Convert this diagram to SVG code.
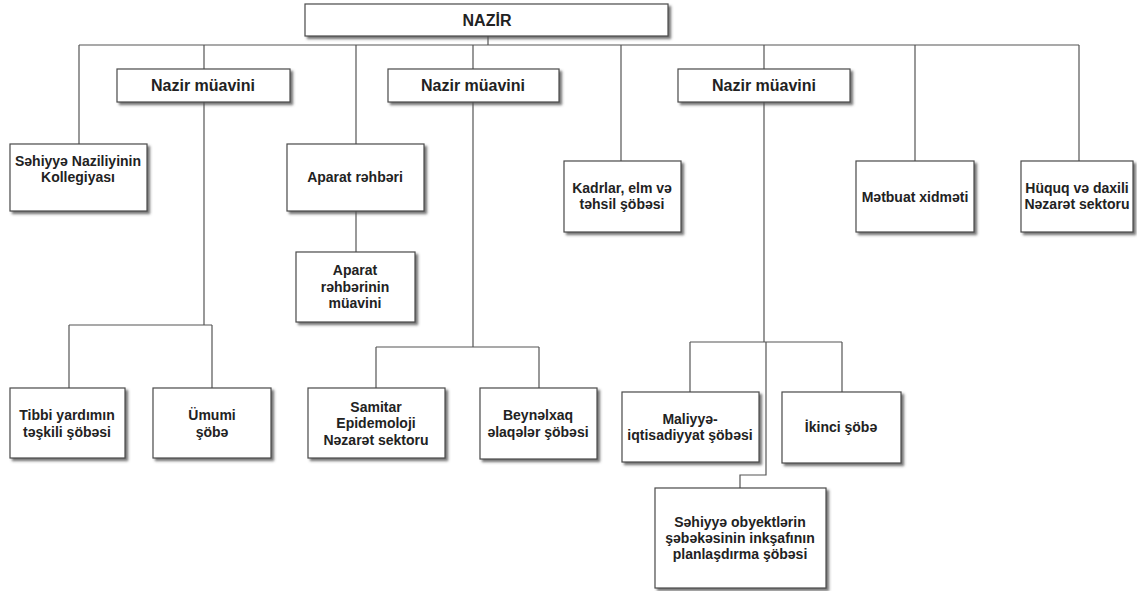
<svg xmlns="http://www.w3.org/2000/svg" width="1137" height="591" viewBox="0 0 1137 591">
<defs>
<filter id="sh" x="-10%" y="-10%" width="130%" height="130%">
<feDropShadow dx="2.5" dy="2.5" stdDeviation="1" flood-color="#555" flood-opacity="0.8"/>
</filter>
<style>
.b{fill:#fff;stroke:#4a4a4a;stroke-width:1.2;filter:url(#sh)}
.t{font-family:"Liberation Sans",Arial,sans-serif;font-weight:bold;font-size:14px;fill:#222;text-anchor:middle}
.h{font-size:16px}
.c{fill:none;stroke:#555;stroke-width:1.2}
</style>
</defs>
<rect width="1137" height="591" fill="#fff"/>
<g id="connectors" class="c">
<path d="M488 36V45M79 45H1079"/>
<path d="M79 45V144M204 45V69M356 45V144M473 45V69M621 45V161M764 45V69M915 45V161M1079 45V161"/>
<path d="M204 102V325M69 325H212M69 325V388M212 325V388"/>
<path d="M356 211V252"/>
<path d="M473 102V347M376 347H539M376 347V388M539 347V388"/>
<path d="M764 102V342M690 342H842M690 342V392M842 342V392M766 342V475H740V488"/>
</g>
<g id="nazir"><rect class="b" x="305" y="4" width="363" height="32"/><text class="t h" x="487" y="26">NAZİR</text></g>
<g id="muavin1"><rect class="b" x="117" y="69" width="173" height="33"/><text class="t h" x="203" y="91">Nazir müavini</text></g>
<g id="muavin2"><rect class="b" x="388" y="69" width="171" height="33"/><text class="t h" x="473" y="91">Nazir müavini</text></g>
<g id="muavin3"><rect class="b" x="678" y="69" width="172" height="33"/><text class="t h" x="764" y="91">Nazir müavini</text></g>
<g id="kollegiya"><rect class="b" x="10" y="144" width="137" height="67"/><text class="t" x="78" y="166">Səhiyyə Naziliyinin</text><text class="t" x="78" y="182">Kollegiyası</text></g>
<g id="aparat"><rect class="b" x="287" y="144" width="137" height="67"/><text class="t" x="355" y="182">Aparat rəhbəri</text></g>
<g id="aparat-muavin"><rect class="b" x="296" y="252" width="119" height="70"/><text class="t" x="355" y="275">Aparat</text><text class="t" x="355" y="292">rəhbərinin</text><text class="t" x="355" y="308">müavini</text></g>
<g id="kadrlar"><rect class="b" x="564" y="161" width="117" height="71"/><text class="t" x="622" y="193">Kadrlar, elm və</text><text class="t" x="622" y="209">təhsil şöbəsi</text></g>
<g id="metbuat"><rect class="b" x="856" y="161" width="118" height="71"/><text class="t" x="915" y="202">Mətbuat xidməti</text></g>
<g id="huquq"><rect class="b" x="1021" y="161" width="112" height="71"/><text class="t" x="1077" y="193">Hüquq və daxili</text><text class="t" x="1077" y="209">Nəzarət sektoru</text></g>
<g id="tibbi"><rect class="b" x="10" y="388" width="115" height="70"/><text class="t" x="67" y="420">Tibbi yardımın</text><text class="t" x="67" y="437">təşkili şöbəsi</text></g>
<g id="umumi"><rect class="b" x="153" y="388" width="118" height="70"/><text class="t" x="212" y="420">Ümumi</text><text class="t" x="212" y="437">şöbə</text></g>
<g id="samitar"><rect class="b" x="308" y="388" width="137" height="70"/><text class="t" x="376" y="412">Samitar</text><text class="t" x="376" y="428">Epidemoloji</text><text class="t" x="376" y="445">Nəzarət sektoru</text></g>
<g id="beynelxalq"><rect class="b" x="480" y="388" width="117" height="71"/><text class="t" x="538" y="420">Beynəlxaq</text><text class="t" x="538" y="437">əlaqələr şöbəsi</text></g>
<g id="maliyye"><rect class="b" x="622" y="392" width="137" height="70"/><text class="t" x="690" y="424">Maliyyə-</text><text class="t" x="690" y="440">iqtisadiyyat şöbəsi</text></g>
<g id="ikinci"><rect class="b" x="782" y="392" width="119" height="71"/><text class="t" x="841" y="432">İkinci şöbə</text></g>
<g id="obyekt"><rect class="b" x="655" y="488" width="171" height="100"/><text class="t" x="740" y="527">Səhiyyə obyektlərin</text><text class="t" x="740" y="543">şəbəkəsinin inkşafının</text><text class="t" x="740" y="559">planlaşdırma şöbəsi</text></g>
</svg>
